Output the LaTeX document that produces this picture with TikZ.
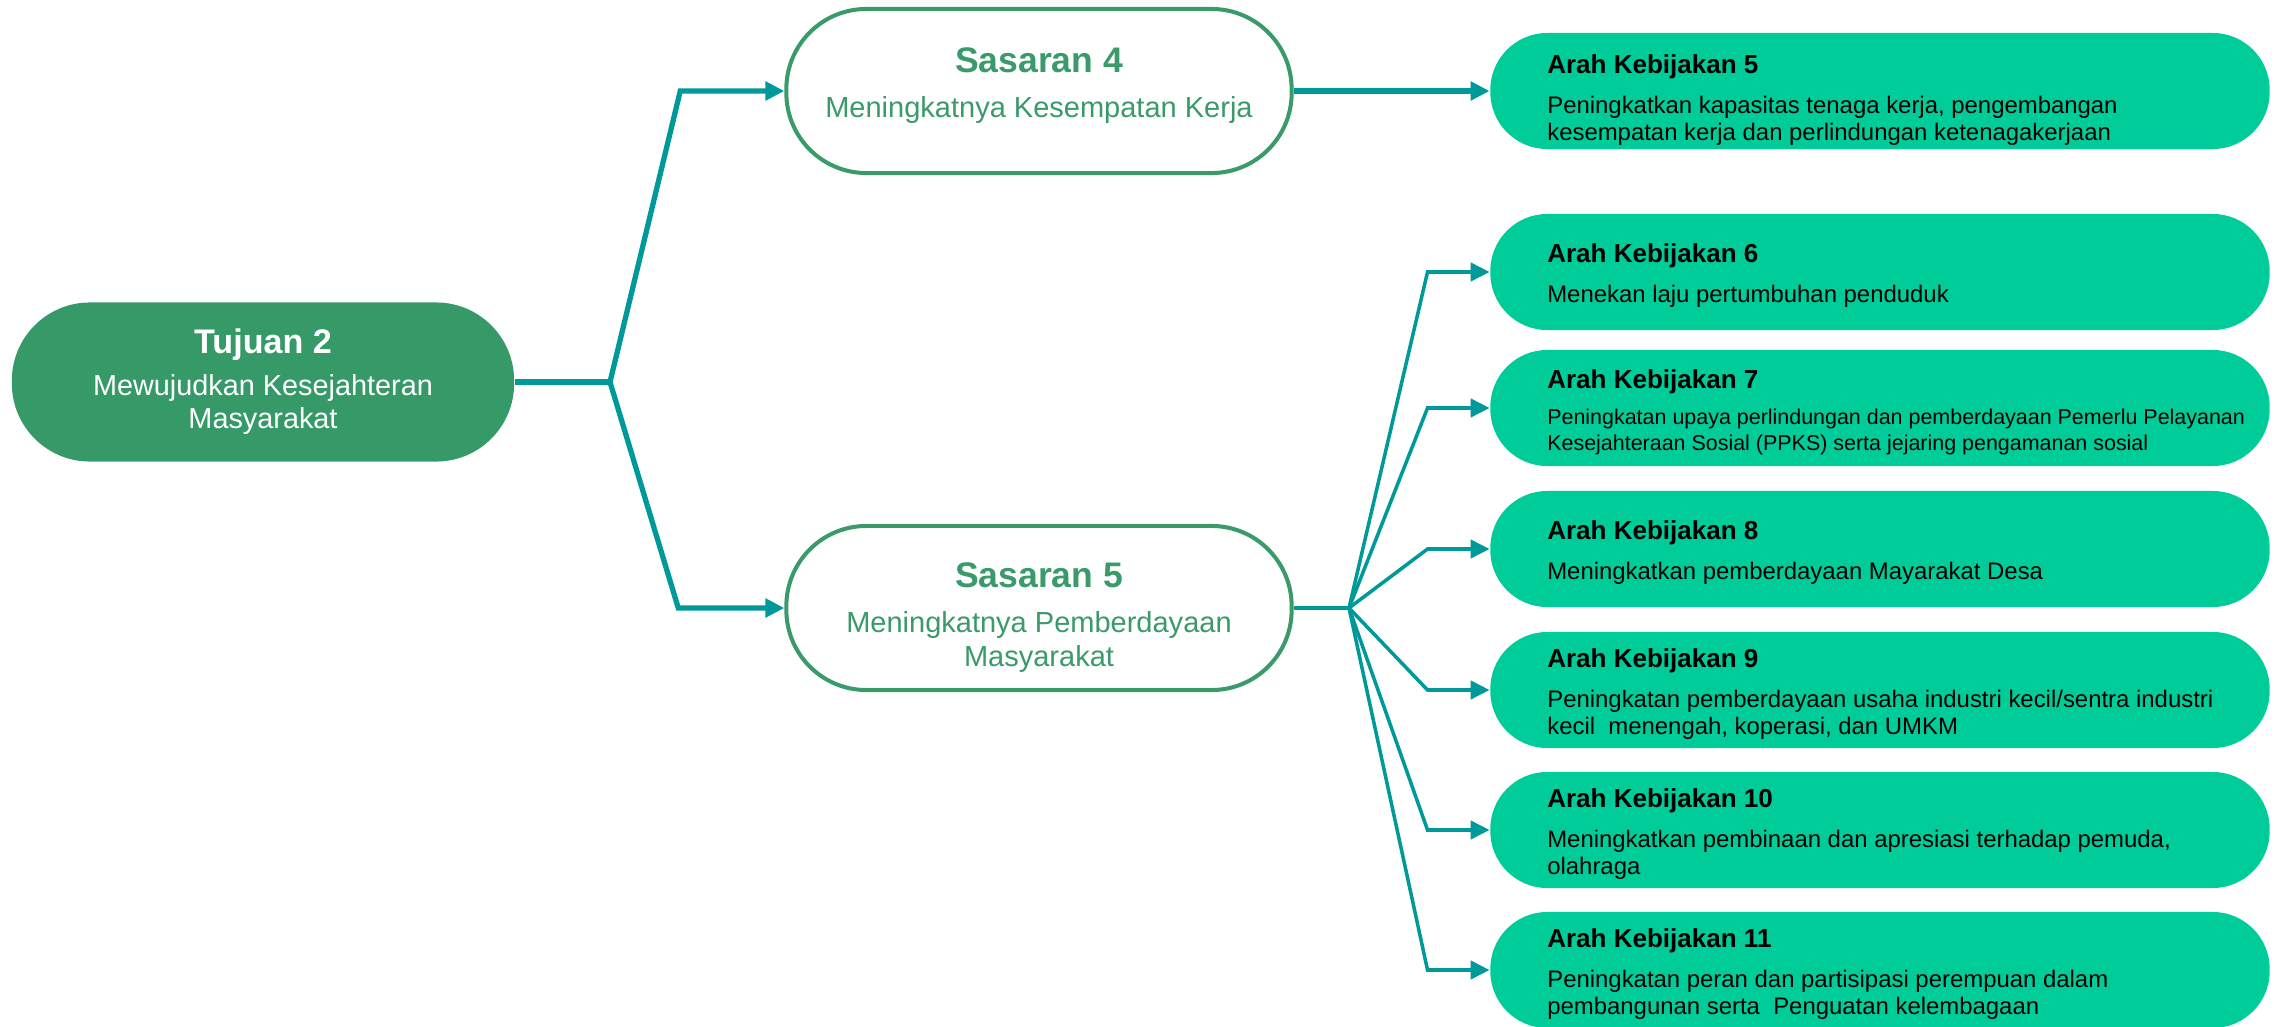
\documentclass[tikz,border=0pt]{standalone}
\usepackage{fontspec}
\setmainfont{Liberation Sans}
\usetikzlibrary{arrows.meta,positioning}

\definecolor{hijautua}{HTML}{369A68}
\definecolor{hijaugaris}{HTML}{3A9A6A}
\definecolor{hijaumuda}{HTML}{00CC99}
\definecolor{tosca}{HTML}{009999}

\newcommand{\judularah}[1]{{\bfseries\fontsize{7.4}{7.7}\selectfont #1}}
\newcommand{\judulsasaran}[1]{{\bfseries\fontsize{10.1}{9.7}\selectfont #1}}

\begin{document}
\begin{tikzpicture}[x=0.01cm, y=-0.01cm, >={Triangle[length=5.4pt,width=5.2pt]},
    tujuan/.style={fill=hijautua, text=white, rounded corners=0.78cm,
        minimum width=5.02cm, minimum height=1.59cm, align=center,
        font=\fontsize{8.2}{9.4}\selectfont},
    sasaran/.style={draw=hijaugaris, line width=1.15pt, fill=white,
        rounded corners=0.8cm, minimum width=5.05cm, minimum height=1.64cm},
    sasaranteks/.style={inner sep=0pt, text=hijaugaris, align=center,
        font=\fontsize{8.25}{9.7}\selectfont},
    arah/.style={fill=hijaumuda, rounded corners=0.57cm,
        minimum width=7.79cm, minimum height=1.16cm},
    arahteks/.style={inner sep=0pt, align=left, yshift=-0.04cm,
        font=\fontsize{6.8}{7.7}\selectfont},
    arahkecil/.style={arahteks, font=\fontsize{6.1}{7.4}\selectfont},
    batang/.style={draw=tosca, line width=1.5pt},
    cabang/.style={draw=tosca, line width=1pt}]

    % 1. Khung hình
    \useasboundingbox (0,0) rectangle (2277,1027);

    % 2. Tujuan và Sasaran
    \node[tujuan] (tuj) at (263,382)
        {{\bfseries\fontsize{9.7}{9.4}\selectfont Tujuan 2}\\[2.6pt]
         Mewujudkan Kesejahteran\\ Masyarakat};
    \node[sasaran] (s4) at (1039,91) {};
    \node[sasaran] (s5) at (1039,608) {};
    \node[sasaranteks] (ts4) at ([yshift=0.05cm]s4.center)
        {\judulsasaran{Sasaran 4}\\[3.1pt] Meningkatnya Kesempatan Kerja};
    \node[sasaranteks] (ts5) at ([yshift=-0.1cm]s5.center)
        {\judulsasaran{Sasaran 5}\\[3.1pt] Meningkatnya Pemberdayaan\\ Masyarakat};

    % 3. Arah Kebijakan
    \node[arah] (a5) at (1880,91) {};
    \node[arah] (a6) at (1880,272) {};
    \node[arah] (a7) at (1880,408) {};
    \node[arah] (a8) at (1880,549) {};
    \node[arah] (a9) at (1880,690) {};
    \node[arah] (a10) at (1880,830) {};
    \node[arah] (a11) at (1880,970) {};

    \node[arahteks, right=0.57cm of a5.west, yshift=-0.05cm] (t5)
        {\judularah{Arah Kebijakan 5}\\[3.9pt]
         Peningkatkan kapasitas tenaga kerja, pengembangan\\
         kesempatan kerja dan perlindungan ketenagakerjaan};
    \node[arahteks, right=0.57cm of a6.west] (t6)
        {\judularah{Arah Kebijakan 6}\\[3.7pt]
         Menekan laju pertumbuhan penduduk};
    \node[arahkecil, right=0.57cm of a7.west] (t7)
        {\judularah{Arah Kebijakan 7}\\[2.8pt]
         Peningkatan upaya perlindungan dan pemberdayaan Pemerlu Pelayanan\\
         Kesejahteraan Sosial (PPKS) serta jejaring pengamanan sosial};
    \node[arahteks, right=0.57cm of a8.west] (t8)
        {\judularah{Arah Kebijakan 8}\\[3.7pt]
         Meningkatkan pemberdayaan Mayarakat Desa};
    \node[arahteks, right=0.57cm of a9.west] (t9)
        {\judularah{Arah Kebijakan 9}\\[3.7pt]
         Peningkatan pemberdayaan usaha industri kecil/sentra industri\\
         kecil\ \ menengah, koperasi, dan UMKM};
    \node[arahteks, right=0.57cm of a10.west] (t10)
        {\judularah{Arah Kebijakan 10}\\[3.7pt]
         Meningkatkan pembinaan dan apresiasi terhadap pemuda,\\
         olahraga};
    \node[arahteks, right=0.57cm of a11.west] (t11)
        {\judularah{Arah Kebijakan 11}\\[3.7pt]
         Peningkatan peran dan partisipasi perempuan dalam\\
         pembangunan serta\ \ Penguatan kelembagaan};

    % 4. Garis penghubung
    \coordinate (j1) at (610,382);
    \coordinate (j2) at (1349,608);
    \draw[batang] (tuj.east) -- (j1);
    \draw[batang, ->] (j1) -- ([xshift=-1.04cm]s4.west) -- (s4.west);
    \draw[batang, ->] (j1) -- ([xshift=-1.06cm]s5.west) -- (s5.west);
    \draw[batang, ->] (s4.east) -- (a5.west);
    \draw[cabang] (s5.east) -- (j2);
    \foreach \n in {6,...,11}
        \draw[cabang, ->] (j2) -- ([xshift=-0.62cm]a\n.west) -- (a\n.west);
\end{tikzpicture}
\end{document}
